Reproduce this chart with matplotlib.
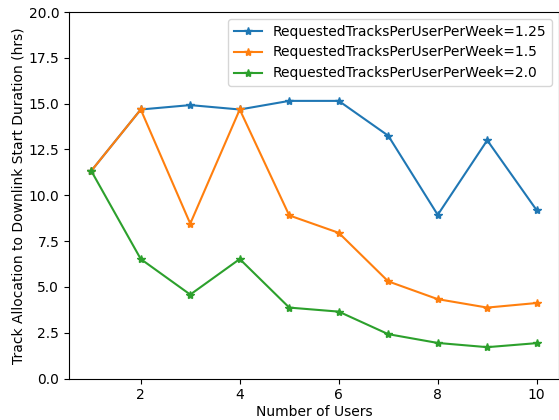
import matplotlib
matplotlib.use("Agg")
import matplotlib.pyplot as plt

users = [1, 2, 3, 4, 5, 6, 7, 8, 9, 10]
rate_125 = [11.33, 14.68, 14.92, 14.68, 15.15, 15.15, 13.25, 8.93, 13.0, 9.18]
rate_15 = [11.33, 14.68, 8.45, 14.68, 8.9, 7.95, 5.3, 4.33, 3.87, 4.12]
rate_20 = [11.33, 6.52, 4.58, 6.52, 3.87, 3.65, 2.42, 1.94, 1.71, 1.93]

fig, ax = plt.subplots(figsize=(5.59, 4.2), dpi=100)
ax.plot(users, rate_125, '*-', label='RequestedTracksPerUserPerWeek=1.25')
ax.plot(users, rate_15, '*-', label='RequestedTracksPerUserPerWeek=1.5')
ax.plot(users, rate_20, '*-', label='RequestedTracksPerUserPerWeek=2.0')
ax.set_ylim(0, 20)
ax.set_xlabel('Number of Users', labelpad=2)
ax.set_ylabel('Track Allocation to Downlink Start Duration (hrs)', labelpad=2)
ax.legend(loc='upper right')
fig.subplots_adjust(left=0.1234, right=1.0, top=0.9714, bottom=0.0988)
fig.savefig('out.png')
